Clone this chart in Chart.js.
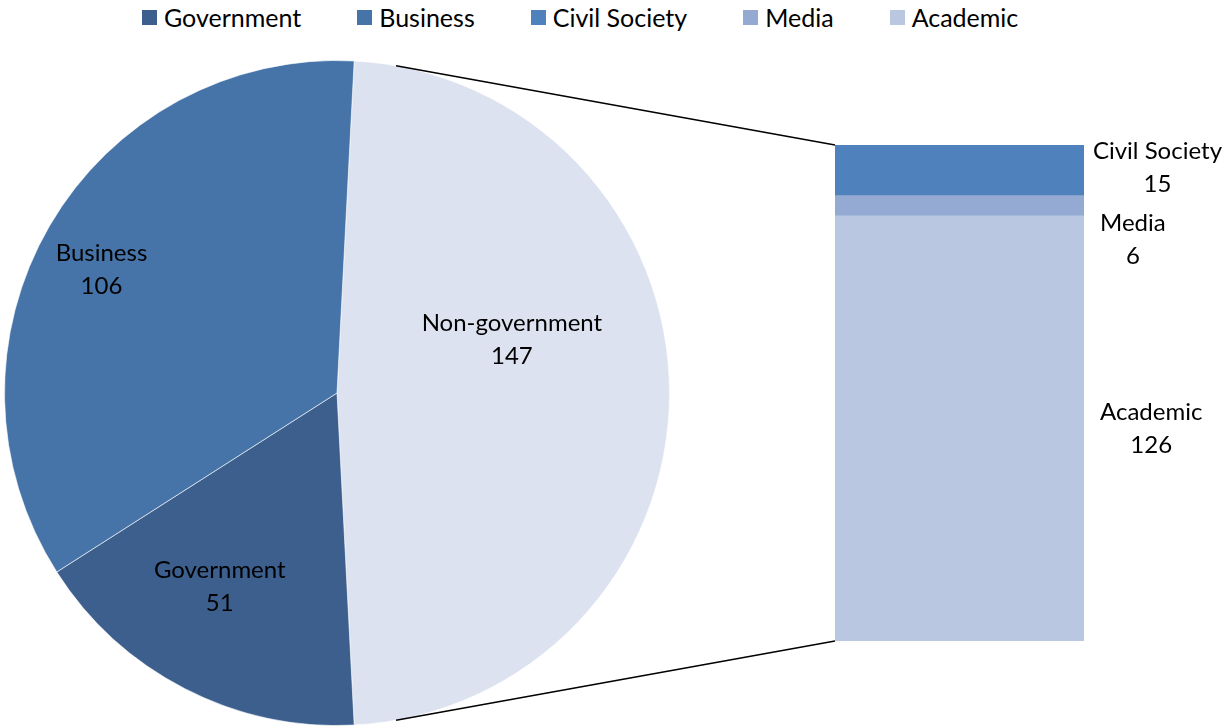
<!DOCTYPE html>
<html>
<head>
<meta charset="utf-8">
<title>Participants by sector</title>
<script src="https://cdn.jsdelivr.net/npm/chart.js@4.4.0/dist/chart.umd.min.js"></script>
<style>
  body { margin: 0; background: #fff; }
  #wrap { position: relative; width: 1224px; height: 727px; overflow: hidden;
          font-family: Lato, "Noto Sans", sans-serif; }
  #legend { position: absolute; top: 3px; left: 142px; display: flex; align-items: center;
            font-size: 25px; color: #000; white-space: nowrap; }
  #legend .item { display: flex; align-items: center; margin-right: 56px; height: 28px; }
  #legend .box { width: 15px; height: 15px; margin-right: 7px; }
  #pieBox { position: absolute; left: 4px; top: 60px; width: 666px; height: 666px; }
  #barBox { position: absolute; left: 0; top: 0; width: 1224px; height: 727px; pointer-events: none; }
</style>
</head>
<body>
<div id="wrap">
  <div id="legend"></div>
  <div id="pieBox"><canvas id="pieChart"></canvas></div>
  <div id="barBox"><canvas id="barChart"></canvas></div>
</div>
<script>
// pie: government vs business vs the rest
const pieLabels = ['Non-government', 'Government', 'Business'];
const pieValues = [147, 51, 106];
const pieColors = ['#dce2ef', '#3c5f8d', '#4674a8'];

// breakdown of the non-government slice (bottom to top of the stack)
const barLabels = ['Academic', 'Media', 'Civil Society'];
const barValues = [126, 6, 15];
const barColors = ['#bac7e0', '#95aad2', '#4f81bd'];

const legendLabels = ['Government', 'Business', 'Civil Society', 'Media', 'Academic'];
const legendColors = ['#3c5f8d', '#4674a8', '#4f81bd', '#95aad2', '#bac7e0'];

// where each pie label sits: fraction of radius and shift from the slice middle (deg)
const pieLabelRadius = [0.55, 0.68, 0.80];
const pieLabelShift = [-17, 4, -2.5];

const FONT = 'Lato, "Noto Sans", sans-serif';
const FONT_SIZE = 24;
const LINE_H = 33;

Chart.defaults.font.family = FONT;
Chart.defaults.font.size = FONT_SIZE;
Chart.defaults.color = '#000';

// html legend
const legendEl = document.getElementById('legend');
legendLabels.forEach((name, i) => {
    const item = document.createElement('div');
    item.className = 'item';
    item.innerHTML = '<span class="box" style="background:' + legendColors[i] + '"></span><span>' + name + '</span>';
    legendEl.appendChild(item);
});
legendEl.lastChild.style.marginRight = '0';

function drawBlock(ctx, lines, cx, cy) {
    ctx.save();
    ctx.font = FONT_SIZE + 'px ' + FONT;
    ctx.fillStyle = '#000';
    ctx.textAlign = 'center';
    ctx.textBaseline = 'middle';
    const top = cy - (lines.length - 1) * LINE_H / 2;
    lines.forEach((t, i) => ctx.fillText(t, cx, top + i * LINE_H));
    ctx.restore();
}

const pieTotal = pieValues.reduce((a, b) => a + b, 0);

const pieLabelPlugin = {
    id: 'pieLabels',
    afterDatasetsDraw(chart) {
        const ctx = chart.ctx;
        chart.getDatasetMeta(0).data.forEach((arc, i) => {
            const mid = (arc.startAngle + arc.endAngle) / 2 + pieLabelShift[i] * Math.PI / 180;
            const r = arc.outerRadius * pieLabelRadius[i];
            drawBlock(ctx, [pieLabels[i], String(pieValues[i])],
                arc.x + Math.cos(mid) * r, arc.y + Math.sin(mid) * r);
        });
    }
};

const pieChart = new Chart(document.getElementById('pieChart'), {
    type: 'pie',
    data: {
        labels: pieLabels,
        datasets: [{
            data: pieValues,
            backgroundColor: pieColors,
            borderColor: 'rgba(255,255,255,0.6)',
            borderWidth: 1
        }]
    },
    options: {
        responsive: true,
        maintainAspectRatio: false,
        animation: false,
        // centre the non-government slice on the right-hand side
        rotation: 90 - pieValues[0] / pieTotal * 180,
        plugins: { legend: { display: false }, tooltip: { enabled: false } }
    },
    plugins: [pieLabelPlugin]
});

// tangent point on a circle seen from an outside point
function tangentPoint(cx, cy, r, px, py, upper) {
    const d = Math.hypot(px - cx, py - cy);
    const phi = Math.atan2(py - cy, px - cx);
    const a = Math.acos(r / d);
    const p1 = [cx + r * Math.cos(phi - a), cy + r * Math.sin(phi - a)];
    const p2 = [cx + r * Math.cos(phi + a), cy + r * Math.sin(phi + a)];
    if (upper) return p1[1] < p2[1] ? p1 : p2;
    return p1[1] > p2[1] ? p1 : p2;
}

const barExtrasPlugin = {
    id: 'barExtras',
    afterDatasetsDraw(chart) {
        const ctx = chart.ctx;
        const bars = chart.data.datasets.map((ds, i) => chart.getDatasetMeta(i).data[0]);
        const topBar = bars[bars.length - 1];
        const bottomBar = bars[0];
        const left = topBar.x - topBar.width / 2;
        const right = topBar.x + topBar.width / 2;

        // connector lines from the pie to the stacked bar
        const arc = pieChart.getDatasetMeta(0).data[0];
        const box = document.getElementById('pieBox');
        const cx = arc.x + box.offsetLeft;
        const cy = arc.y + box.offsetTop;
        const R = arc.outerRadius;
        const t1 = tangentPoint(cx, cy, R, left, topBar.y, true);
        const t2 = tangentPoint(cx, cy, R, left, bottomBar.base, false);
        ctx.save();
        ctx.strokeStyle = '#000';
        ctx.lineWidth = 1.5;
        ctx.beginPath();
        ctx.moveTo(t1[0], t1[1]);
        ctx.lineTo(left, topBar.y);
        ctx.moveTo(t2[0], t2[1]);
        ctx.lineTo(left, bottomBar.base);
        ctx.stroke();
        ctx.restore();

        // value labels to the right, pushed down when they would overlap
        ctx.save();
        ctx.font = FONT_SIZE + 'px ' + FONT;
        let lastBottom = -Infinity;
        for (let i = bars.length - 1; i >= 0; i--) {
            const b = bars[i];
            const name = barLabels[i];
            const w = ctx.measureText(name).width;
            let cy2 = (b.y + b.base) / 2;
            if (i === bars.length - 1) cy2 -= 3;
            const h = LINE_H * 2;
            if (cy2 - h / 2 < lastBottom + 6) cy2 = lastBottom + 6 + h / 2;
            lastBottom = cy2 + h / 2;
            let bx = right + 16;
            if (bx + w > chart.width - 2) bx = chart.width - 2 - w;
            drawBlock(ctx, [name, String(barValues[i])], bx + w / 2, cy2);
        }
        ctx.restore();
    }
};

new Chart(document.getElementById('barChart'), {
    type: 'bar',
    data: {
        labels: ['Non-government'],
        datasets: barLabels.map((name, i) => ({
            label: name,
            data: [barValues[i]],
            backgroundColor: barColors[i],
            borderWidth: 0,
            barPercentage: 1,
            categoryPercentage: 1
        }))
    },
    options: {
        responsive: true,
        maintainAspectRatio: false,
        animation: false,
        layout: { padding: { left: 835, right: 140, top: 145, bottom: 86 } },
        scales: {
            x: { stacked: true, display: false },
            y: { stacked: true, display: false, min: 0, max: barValues.reduce((a, b) => a + b, 0) }
        },
        plugins: { legend: { display: false }, tooltip: { enabled: false } }
    },
    plugins: [barExtrasPlugin]
});
</script>
</body>
</html>
